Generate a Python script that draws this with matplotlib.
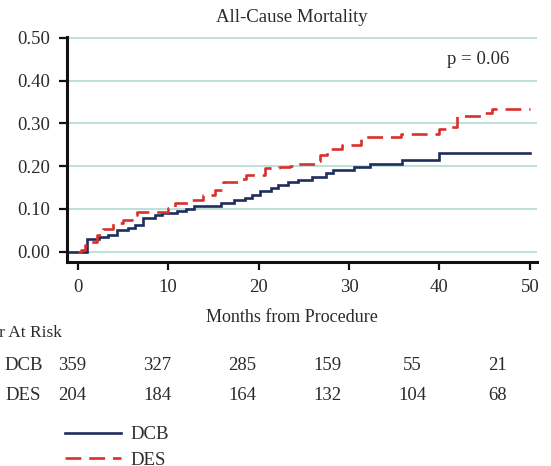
import matplotlib
matplotlib.use('Agg')
import matplotlib.pyplot as plt
from matplotlib.lines import Line2D

# Kaplan-Meier style cumulative mortality
dcb_t = [-1.2, 1.0, 2.3, 3.3, 4.3, 5.5, 6.3, 7.2, 8.5, 9.3, 11.0, 12.0, 12.8, 15.8, 17.3,
         18.5, 19.3, 20.2, 21.4, 22.1, 23.2, 24.4, 25.9, 27.5, 28.2, 30.5, 32.3, 35.9, 40.0, 50.0]
dcb_v = [0, 0.030, 0.035, 0.040, 0.050, 0.055, 0.062, 0.078, 0.085, 0.090, 0.095, 0.100, 0.106,
         0.114, 0.121, 0.125, 0.133, 0.141, 0.149, 0.157, 0.164, 0.168, 0.175, 0.184, 0.192,
         0.198, 0.204, 0.214, 0.230, 0.230]

des_t = [0, 0.3, 0.8, 1.3, 2.1, 2.8, 3.9, 5.0, 6.0, 6.5, 10.0, 10.8, 12.3, 13.9, 15.2, 16.1,
         17.8, 18.6, 20.7, 22.2, 23.5, 24.4, 26.2, 26.8, 27.6, 29.2, 31.3, 35.7, 40.0, 41.2,
         41.9, 44.8, 45.8, 50.0]
des_v = [0, 0.005, 0.016, 0.023, 0.040, 0.054, 0.067, 0.075, 0.086, 0.094, 0.102, 0.114, 0.121,
         0.133, 0.145, 0.162, 0.170, 0.180, 0.195, 0.199, 0.201, 0.205, 0.211, 0.225, 0.240,
         0.250, 0.269, 0.276, 0.287, 0.291, 0.318, 0.324, 0.334, 0.334]

risk_times = [0, 10, 20, 30, 40, 50]
dcb_risk = [359, 327, 285, 159, 55, 21]
des_risk = [204, 184, 164, 132, 104, 68]

NAVY = '#1e2d5c'
RED = '#d8302c'
GRID = '#b8ddd7'
TXT = '#2b2b2b'
DASH = (6, 3)

plt.rcParams['font.family'] = ['Liberation Serif', 'DejaVu Serif']
plt.rcParams['text.color'] = TXT

W, H = 551, 466
fig = plt.figure(figsize=(W / 100, H / 100), dpi=100)


def fx(px):
    return px / W


def fy(py):
    return 1 - py / H


ax = fig.add_axes([fx(67), fy(262), fx(537) - fx(67), fy(37) - fy(262)])

ax.step(dcb_t, dcb_v, where='post', color=NAVY, lw=1.9, solid_joinstyle='miter')
ax.step(des_t, des_v, where='post', color=RED, lw=1.9, dashes=DASH)

ax.set_xlim(-1.2, 50.8)
ax.set_ylim(-0.024, 0.502)
ax.set_yticks([0, 0.1, 0.2, 0.3, 0.4, 0.5])
ax.set_yticklabels(['%.2f' % v for v in ax.get_yticks()])
ax.set_xticks(risk_times)
ax.grid(axis='y', color=GRID, lw=1.3)
ax.set_axisbelow(True)

for s in ['top', 'right']:
    ax.spines[s].set_visible(False)
for s in ['left', 'bottom']:
    ax.spines[s].set_linewidth(2.2)
    ax.spines[s].set_color('#111111')
ax.tick_params(axis='both', direction='out', length=6, width=1.6, colors='#111111',
               labelsize=13.5, labelcolor=TXT)
ax.tick_params(axis='y', pad=6)
ax.tick_params(axis='x', pad=6)

fig.text(fx(292), fy(18), 'All-Cause Mortality', ha='center', va='center', fontsize=13.5)
ax.text(0.942, 0.94, 'p = 0.06', transform=ax.transAxes, ha='right', va='top', fontsize=13.5)
fig.text(fx(292), fy(317), 'Months from Procedure', ha='center', va='center', fontsize=13)

# number at risk table
fig.text(fx(62), fy(333), 'Number At Risk', ha='right', va='center', fontsize=12.5)
fig.text(fx(43), fy(365), 'DCB', ha='right', va='center', fontsize=13.5)
fig.text(fx(41), fy(396), 'DES', ha='right', va='center', fontsize=13.5)
for i, (a, b) in enumerate(zip(dcb_risk, des_risk)):
    x = fx(72.5 + 85 * i)
    fig.text(x, fy(366), str(a), ha='center', va='center', fontsize=13.5)
    fig.text(x, fy(395), str(b), ha='center', va='center', fontsize=13.5)

handles = [Line2D([], [], color=NAVY, lw=1.9),
           Line2D([], [], color=RED, lw=1.9, dashes=DASH)]
fig.legend(handles, ['DCB', 'DES'], loc='upper left', bbox_to_anchor=(fx(65), fy(426)),
           frameon=False, fontsize=13.5, handlelength=3.0, handletextpad=0.5,
           labelspacing=0.45, borderpad=0, borderaxespad=0)

fig.savefig('out.png', dpi=100)
